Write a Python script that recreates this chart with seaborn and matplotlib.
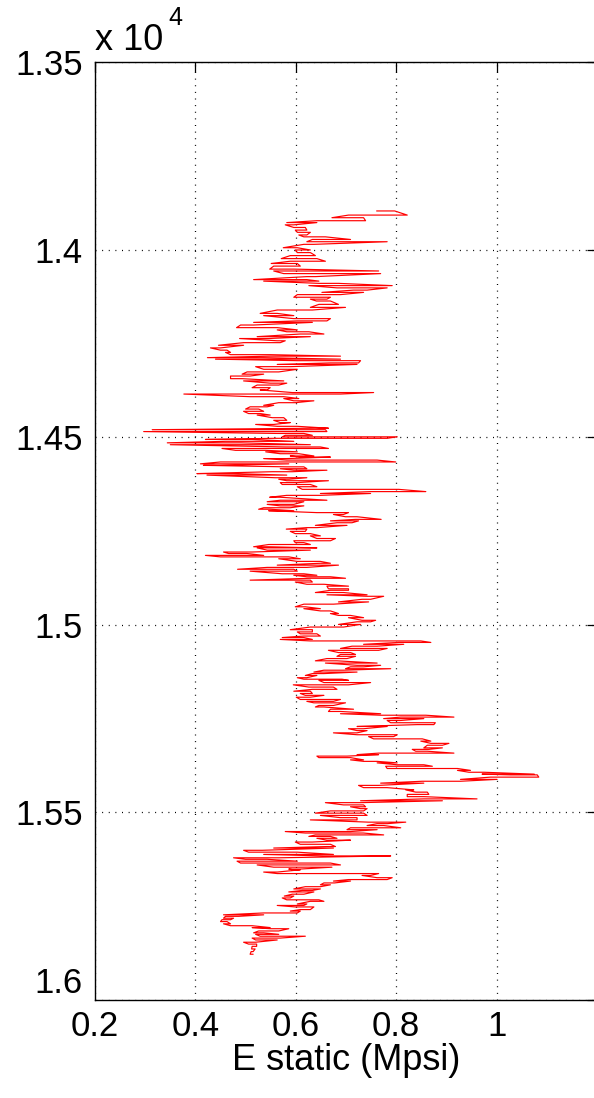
import matplotlib
matplotlib.use("Agg")
import matplotlib.pyplot as plt
import pandas as pd
import seaborn as sns

# Static Young's modulus log: for each depth step, the low and high reading (Mpsi)
depth_ft = [
    13897, 13908, 13915, 13923, 13928, 13934, 13941, 13948, 13954, 13961, 13966, 13973,
    13979, 13986, 13995, 14001, 14008, 14016, 14024, 14031, 14037, 14044, 14052, 14057,
    14064, 14072, 14080, 14084, 14090, 14096, 14102, 14108, 14114, 14120, 14127, 14132,
    14137, 14146, 14154, 14161, 14170, 14176, 14184, 14190, 14194, 14201, 14208, 14214,
    14219, 14225, 14232, 14237, 14243, 14248, 14255, 14262, 14268, 14274, 14280, 14284,
    14288, 14292, 14296, 14302, 14306, 14312, 14319, 14326, 14332, 14337, 14344, 14350,
    14356, 14361, 14368, 14374, 14381, 14385,
    14392, 14397, 14403, 14408, 14415, 14419, 14425, 14431, 14437, 14441, 14448, 14455,
    14461, 14466, 14471, 14476, 14480, 14485, 14490, 14495, 14499, 14503, 14506, 14511,
    14515, 14520, 14526, 14530, 14535, 14539, 14544, 14550, 14553, 14557, 14561, 14566,
    14571, 14575, 14579, 14584, 14588, 14592, 14597, 14601, 14608, 14612, 14616, 14621,
    14626, 14632, 14639,
    14645, 14650, 14655, 14660, 14668, 14672, 14679, 14683, 14688, 14692, 14696, 14701,
    14706, 14712, 14719, 14723, 14728, 14735, 14741, 14745, 14751, 14757, 14763, 14770,
    14776, 14781, 14786, 14792, 14795, 14801, 14806, 14810, 14815, 14819, 14824, 14831,
    14836, 14841, 14847, 14852, 14857, 14864, 14868, 14872, 14876, 14881, 14886, 14892,
    14897, 14904, 14908, 14914, 14920, 14924, 14932, 14939, 14945, 14952, 14957, 14963,
    14970, 14975, 14981, 14988, 14992, 14999, 15006, 15013, 15019, 15024, 15030, 15034,
    15039, 15043, 15047, 15052, 15057, 15063, 15068, 15074, 15079, 15084, 15090, 15096,
    15102, 15108, 15112, 15117, 15121, 15126, 15130, 15135, 15141, 15145,
    15148, 15154, 15160, 15166, 15172, 15177, 15183, 15188, 15193, 15199, 15204, 15208,
    15215, 15219, 15225, 15231, 15237, 15241, 15246, 15250, 15255, 15261, 15266, 15271,
    15277, 15282, 15288, 15293, 15298, 15304, 15310, 15316, 15321, 15328, 15332, 15337,
    15342, 15346, 15350, 15354, 15360, 15364, 15368, 15373, 15377, 15383, 15388, 15393,
    15398,
    15400, 15406, 15412, 15417, 15422, 15428, 15434, 15440, 15446, 15452, 15458, 15464,
    15469, 15474, 15480, 15485, 15490, 15496, 15502, 15508, 15514, 15520, 15526, 15530,
    15535, 15541, 15546, 15551, 15555, 15560, 15564, 15569, 15574, 15579, 15585, 15591,
    15595, 15601, 15606, 15612, 15616, 15621, 15625, 15630, 15635, 15640, 15646, 15651,
    15653, 15659, 15663, 15668, 15674, 15679, 15683, 15688, 15693, 15698, 15704, 15708,
    15712, 15718, 15723, 15728, 15733, 15737, 15744, 15748, 15752, 15759, 15763, 15768,
    15773, 15777, 15782, 15786, 15791, 15797, 15802, 15807, 15810, 15816, 15821, 15825,
    15830, 15835, 15840, 15846, 15851, 15857, 15864, 15871, 15878,
]

e_low = [
    0.761, 0.705, 0.672, 0.642, 0.582, 0.579, 0.596, 0.599, 0.603, 0.606, 0.616, 0.633,
    0.622, 0.616, 0.575, 0.599, 0.603, 0.589, 0.571, 0.589, 0.551, 0.556, 0.548, 0.556,
    0.576, 0.622, 0.516, 0.536, 0.646, 0.626, 0.682, 0.715, 0.652, 0.603, 0.596, 0.629,
    0.641, 0.646, 0.629, 0.563, 0.529, 0.536, 0.596, 0.603, 0.516, 0.490, 0.482, 0.563,
    0.582, 0.609, 0.523, 0.488, 0.563, 0.496, 0.446, 0.430, 0.450, 0.460, 0.470, 0.549,
    0.424, 0.440, 0.603, 0.669, 0.563, 0.520, 0.536, 0.503, 0.493, 0.470, 0.470, 0.496,
    0.549, 0.523, 0.513, 0.529, 0.593, 0.377,
    0.509, 0.576, 0.596, 0.566, 0.536, 0.509, 0.500, 0.496, 0.506, 0.523, 0.553, 0.556,
    0.569, 0.520, 0.563, 0.642, 0.314, 0.297, 0.563, 0.579, 0.573, 0.556, 0.420, 0.460,
    0.344, 0.350, 0.579, 0.453, 0.480, 0.540, 0.569, 0.589, 0.609, 0.536, 0.582, 0.450,
    0.410, 0.416, 0.582, 0.569, 0.596, 0.553, 0.403, 0.423, 0.559, 0.566, 0.582, 0.569,
    0.573, 0.603, 0.613,
    0.749, 0.649, 0.582, 0.548, 0.569, 0.543, 0.543, 0.569, 0.536, 0.526, 0.546, 0.642,
    0.675, 0.699, 0.719, 0.669, 0.682, 0.639, 0.622, 0.581, 0.589, 0.599, 0.629, 0.642,
    0.596, 0.599, 0.546, 0.516, 0.523, 0.543, 0.456, 0.466, 0.420, 0.450, 0.566, 0.603,
    0.649, 0.563, 0.543, 0.484, 0.509, 0.573, 0.596, 0.622, 0.629, 0.509, 0.599, 0.622,
    0.662, 0.665, 0.669, 0.639, 0.662, 0.742, 0.732, 0.685, 0.616, 0.599, 0.616, 0.649,
    0.669, 0.685, 0.705, 0.732, 0.722, 0.685, 0.629, 0.589, 0.603, 0.609, 0.616, 0.573,
    0.569, 0.629, 0.805, 0.735, 0.712, 0.689, 0.665, 0.685, 0.689, 0.682, 0.662, 0.639,
    0.659, 0.722, 0.709, 0.699, 0.656, 0.636, 0.633, 0.619, 0.603, 0.616,
    0.646, 0.656, 0.595, 0.626, 0.633, 0.596, 0.609, 0.619, 0.601, 0.609, 0.622, 0.636,
    0.646, 0.639, 0.669, 0.665, 0.689, 0.769, 0.809, 0.775, 0.782, 0.789, 0.842, 0.722,
    0.705, 0.722, 0.675, 0.722, 0.745, 0.755, 0.849, 0.869, 0.862, 0.855, 0.832, 0.839,
    0.765, 0.722, 0.642, 0.646, 0.709, 0.735, 0.762, 0.802, 0.779, 0.782, 0.922, 0.945,
    0.971,
    1.028, 0.988, 0.928, 0.852, 0.769, 0.725, 0.735, 0.819, 0.839, 0.822, 0.822, 0.855,
    0.729, 0.659, 0.695, 0.709, 0.729, 0.669, 0.639, 0.649, 0.689, 0.629, 0.745, 0.762,
    0.742, 0.709, 0.702, 0.579, 0.619, 0.639, 0.626, 0.642, 0.662, 0.599, 0.609, 0.662,
    0.556, 0.496, 0.506, 0.536, 0.656, 0.476, 0.500, 0.483, 0.490, 0.523, 0.556, 0.586,
    0.596, 0.536, 0.563, 0.732, 0.762, 0.705, 0.675, 0.656, 0.649, 0.619, 0.596, 0.613,
    0.586, 0.593, 0.577, 0.573, 0.582, 0.629, 0.603, 0.563, 0.599, 0.609, 0.589, 0.536,
    0.456, 0.460, 0.456, 0.453, 0.450, 0.456, 0.470, 0.513, 0.549, 0.526, 0.516, 0.520,
    0.529, 0.513, 0.520, 0.496, 0.506, 0.513, 0.512, 0.511, 0.509,
]

e_high = [
    0.797, 0.822, 0.735, 0.739, 0.642, 0.596, 0.619, 0.622, 0.629, 0.622, 0.659, 0.709,
    0.782, 0.636, 0.603, 0.629, 0.629, 0.639, 0.642, 0.659, 0.603, 0.609, 0.596, 0.765,
    0.769, 0.639, 0.622, 0.646, 0.685, 0.792, 0.782, 0.742, 0.735, 0.689, 0.669, 0.662,
    0.669, 0.685, 0.699, 0.633, 0.563, 0.596, 0.669, 0.662, 0.633, 0.516, 0.563, 0.603,
    0.626, 0.656, 0.629, 0.546, 0.579, 0.569, 0.496, 0.450, 0.463, 0.470, 0.549, 0.689,
    0.536, 0.689, 0.729, 0.725, 0.722, 0.589, 0.603, 0.566, 0.536, 0.509, 0.493, 0.576,
    0.582, 0.566, 0.549, 0.543, 0.755, 0.689,
    0.576, 0.606, 0.636, 0.599, 0.556, 0.543, 0.526, 0.536, 0.529, 0.549, 0.576, 0.582,
    0.589, 0.556, 0.603, 0.665, 0.659, 0.662, 0.616, 0.633, 0.802, 0.782, 0.513, 0.596,
    0.490, 0.629, 0.649, 0.665, 0.540, 0.603, 0.606, 0.636, 0.669, 0.582, 0.762, 0.799,
    0.586, 0.450, 0.616, 0.622, 0.662, 0.593, 0.476, 0.582, 0.622, 0.586, 0.665, 0.603,
    0.629, 0.642, 0.805,
    0.859, 0.749, 0.649, 0.569, 0.662, 0.616, 0.596, 0.616, 0.589, 0.549, 0.596, 0.705,
    0.695, 0.722, 0.770, 0.725, 0.712, 0.702, 0.642, 0.622, 0.619, 0.629, 0.649, 0.679,
    0.669, 0.616, 0.629, 0.546, 0.642, 0.629, 0.513, 0.503, 0.536, 0.586, 0.609, 0.649,
    0.669, 0.685, 0.622, 0.596, 0.603, 0.616, 0.642, 0.669, 0.699, 0.629, 0.633, 0.656,
    0.705, 0.705, 0.705, 0.695, 0.742, 0.775, 0.749, 0.745, 0.675, 0.619, 0.649, 0.669,
    0.685, 0.709, 0.735, 0.759, 0.749, 0.729, 0.695, 0.633, 0.633, 0.642, 0.649, 0.616,
    0.633, 0.849, 0.869, 0.815, 0.762, 0.782, 0.765, 0.709, 0.719, 0.719, 0.702, 0.682,
    0.762, 0.769, 0.735, 0.789, 0.695, 0.722, 0.656, 0.642, 0.622, 0.692,
    0.705, 0.749, 0.705, 0.675, 0.682, 0.629, 0.633, 0.656, 0.629, 0.689, 0.675, 0.699,
    0.675, 0.656, 0.715, 0.689, 0.769, 0.859, 0.915, 0.855, 0.809, 0.878, 0.875, 0.782,
    0.735, 0.742, 0.722, 0.802, 0.795, 0.852, 0.869, 0.905, 0.892, 0.892, 0.865, 0.862,
    0.915, 0.765, 0.702, 0.709, 0.735, 0.762, 0.802, 0.855, 0.872, 0.922, 0.948, 0.975,
    1.075,
    1.081, 1.084, 1.001, 0.928, 0.855, 0.765, 0.782, 0.835, 0.862, 0.865, 0.855, 0.961,
    0.892, 0.729, 0.735, 0.739, 0.742, 0.735, 0.735, 0.742, 0.722, 0.722, 0.819, 0.782,
    0.775, 0.809, 0.762, 0.709, 0.735, 0.775, 0.669, 0.682, 0.709, 0.633, 0.669, 0.679,
    0.675, 0.533, 0.603, 0.675, 0.789, 0.566, 0.543, 0.603, 0.669, 0.689, 0.672, 0.609,
    0.609, 0.563, 0.765, 0.749, 0.792, 0.782, 0.709, 0.677, 0.669, 0.649, 0.649, 0.633,
    0.636, 0.616, 0.596, 0.589, 0.646, 0.656, 0.622, 0.616, 0.636, 0.629, 0.609, 0.603,
    0.536, 0.486, 0.476, 0.470, 0.463, 0.470, 0.513, 0.549, 0.586, 0.566, 0.536, 0.566,
    0.619, 0.569, 0.563, 0.520, 0.522, 0.522, 0.519, 0.515, 0.515,
]

x_ticks = [0.2, 0.4, 0.6, 0.8, 1.0]
x_tick_labels = ["0.2", "0.4", "0.6", "0.8", "1"]
y_ticks = [13500, 14000, 14500, 15000, 15500, 16000]
y_tick_labels = ["1.35", "1.4", "1.45", "1.5", "1.55", "1.6"]

sns.set_style("white")
plt.rcParams["font.family"] = ["Liberation Sans", "DejaVu Sans"]

# Walk each depth step across its low/high swing, alternating direction so the
# trace zig-zags the way a dense log does.
path_depth, path_e = [], []
for i, (d, lo, hi) in enumerate(zip(depth_ft, e_low, e_high)):
    first, second = (lo, hi) if i % 2 == 0 else (hi, lo)
    path_depth += [d, d]
    path_e += [first, second]
log = pd.DataFrame({"depth": path_depth, "E": path_e})

W, H = 594, 1098
fig = plt.figure(figsize=(W / 100, H / 100), dpi=100)
ax = fig.add_axes([95 / W, (H - 1000) / H, 502 / W, 938 / H])

sns.lineplot(data=log, x="E", y="depth", sort=False, estimator=None,
             orient="y", color="#ff0000", linewidth=0.85, ax=ax)

ax.set_xlim(0.2, 1.2)
ax.set_ylim(16000, 13500)
ax.set_xticks(x_ticks)
ax.set_xticklabels(x_tick_labels)
ax.set_yticks(y_ticks)
ax.set_yticklabels(y_tick_labels)

ax.grid(True, color="black", linestyle=(0, (0.8, 4.5)), linewidth=0.9)
ax.set_axisbelow(True)
for sp in ax.spines.values():
    sp.set_color("black")
    sp.set_linewidth(1.0)

ax.tick_params(direction="in", length=7, width=0.9, top=True, right=True,
               labelsize=25, colors="black")
ax.tick_params(axis="y", pad=9)
ax.tick_params(axis="x", pad=7)
ax.set_xlabel("E static (Mpsi)", fontsize=26, color="black", labelpad=0)
ax.set_ylabel("")
# keep the lowest depth label clear of the first E label below it
ax.get_yticklabels()[-1].set_verticalalignment("bottom")
ax.get_yticklabels()[-1].set_y(16000)

# exponent note for the depth axis
fig.text(95 / W, 1 - 50 / H, "x 10", fontsize=26, color="black",
         ha="left", va="baseline")
fig.text(168 / W, 1 - 25 / H, "4", fontsize=18, color="black",
         ha="left", va="baseline")

fig.savefig("out.png", dpi=100)
